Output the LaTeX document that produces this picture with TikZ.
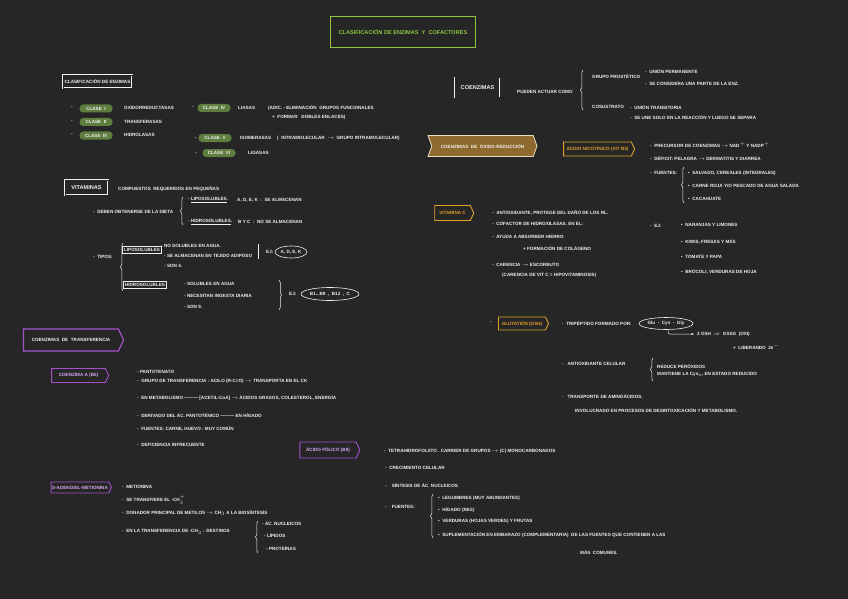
\documentclass[tikz,border=0pt]{standalone}
\usepackage{fontspec}
\setmainfont{Liberation Sans}
\usetikzlibrary{shapes.symbols,shapes.geometric,decorations.pathreplacing,arrows.meta}
\definecolor{board}{HTML}{262626}
\definecolor{chalk}{HTML}{EFEFEF}
\definecolor{titlegreen}{HTML}{8DC63F}
\definecolor{pillgreen}{HTML}{5E7D3E}
\definecolor{cofpurple}{HTML}{A352CC}
\definecolor{cofpurplelt}{HTML}{D6A8F0}
\definecolor{redoxbrown}{HTML}{8E6A2E}
\definecolor{redoxcream}{HTML}{E9DDBE}
\definecolor{redoxamber}{HTML}{E0A02A}
\newcommand\hand{\fontsize{4.6}{5.4}\selectfont\bfseries}
\newcommand\handbig{\fontsize{5.6}{6.4}\selectfont\bfseries}
\begin{document}
\begin{tikzpicture}[x=1pt,y=-1pt,
  txt/.style={anchor=west,inner sep=0pt,text=chalk,font=\hand},
  pill/.style={fill=pillgreen,rounded corners=3.5pt,text=chalk,font=\hand,minimum width=33pt,minimum height=8pt,inner sep=1pt},
  framebox/.style={draw=chalk,line width=0.4pt,double=board,double distance=0.7pt,text=chalk,font=\hand,inner sep=2.5pt},
  thinbox/.style={draw=chalk,line width=0.5pt,text=chalk,font=\hand,inner sep=1.8pt},
  purpletag/.style={shape=signal,signal to=east,signal pointer angle=130,draw=cofpurple,line width=0.9pt,text=cofpurplelt,font=\hand,inner sep=2pt},
  ambertag/.style={shape=signal,signal to=east,signal pointer angle=130,draw=redoxamber,line width=0.9pt,text=redoxamber,font=\hand,inner sep=2pt},
  brc/.style={decorate,decoration={brace,amplitude=2.5pt},draw=chalk,line width=0.5pt},
  oval/.style={ellipse,draw=chalk,line width=0.6pt,text=chalk,font=\hand,inner xsep=0pt,inner ysep=1pt}]
\fill[board] (0,0) rectangle (848,599);
\useasboundingbox (0,0) rectangle (848,599);

\node[draw=titlegreen,line width=0.9pt,minimum width=145pt,minimum height=31pt,text=titlegreen,font=\handbig] (title) at (403,32) {CLASIFICACIÓN DE ENZIMAS \ Y \ COFACTORES};

\node[framebox,minimum width=69pt,minimum height=13pt,inner sep=1pt] (clsf) at (97.5,81.5) {CLASIFICACIÓN DE ENZIMAS};
\node[txt] (d1) at (71,108) {-};
\node[pill] (c1) at (96,108.5) {CLASE \ I};
\node[txt] (t1) at (124,108) {OXIDORREDUCTASAS};
\node[txt] (d2) at (71,122) {-};
\node[pill] (c2) at (96,122) {CLASE \ II};
\node[txt] (t2) at (124,122) {TRANSFERASAS};
\node[txt] (d3) at (71,135) {-};
\node[pill] (c3) at (96,135.5) {CLASE \ III};
\node[txt] (t3) at (124,135) {HIDROLASAS};
\node[txt] (d4) at (192,108) {-};
\node[pill] (c4) at (214,108) {CLASE \ IV};
\node[txt] (t4) at (238,108) {LIASAS};
\node[txt] (t4a) at (268,108) {(ADIC. - ELIMINACIÓN \ GRUPOS FUNCIONALES};
\node[txt] (t4b) at (272,117) {+ \ FORMAR \ \ DOBLES ENLACES)};
\node[txt] (d5) at (195,139) {-};
\node[pill] (c5) at (215,138) {CLASE \ V};
\node[txt] (t5) at (240,138) {ISOMERASAS};
\node[txt] (t5a) at (277,138) {( \ INTRAMOLECULAR \ $\to$ \ GRUPO INTRAMOLECULAR)};
\node[txt] (d6) at (195,154) {-};
\node[pill] (c6) at (219,153) {CLASE \ VI};
\node[txt] (t6) at (248,153) {LIGASAS};

\node[framebox,font=\handbig,minimum width=43pt,minimum height=15pt,inner sep=1pt] (vit) at (86.5,187.5) {VITAMINAS};
\node[txt] (vdef) at (118,189) {COMPUESTOS \ REQUERIDOS EN PEQUEÑAS};
\node[txt] (vdiet) at (93,212) {- \ DEBEN OBTENERSE DE LA DIETA};
\draw[brc] (183,225) -- (183,197);
\node[txt] (vlipo) at (188,200) {- \underline{LIPOSOLUBLES}.};
\node[txt] (vlipot) at (237,200) {A, D, E, K \ : \ SE ALMACENAN};
\node[txt] (vhidro) at (188,222) {- \underline{HIDROSOLUBLES}.};
\node[txt] (vhidrot) at (238,222) {B Y C \ : \ NO SE ALMACENAN};
\node[txt] (vtipos) at (93,257) {- \ TIPOS:};
\draw[brc] (123,291) -- (123,243);
\node[thinbox] (lipo) at (142,249.5) {LIPOSOLUBLES};
\node[txt] (l1) at (161,246) {- NO SOLUBLES EN AGUA.};
\node[txt] (l2) at (164,256) {- SE ALMACENAN EN TEJIDO ADIPOSO};
\node[txt] (l3) at (164,266) {- SON 4.};
\draw[chalk,line width=0.5pt] (258,244) -- (258,259);
\node[txt] (lej) at (266,252) {EJ:};
\node[oval,minimum width=32pt,minimum height=12pt] (lejo) at (291,252) {A, D, E, K};
\node[thinbox] (hidro) at (145,285) {HIDROSOLUBLES};
\node[txt] (h1) at (184,284) {- SOLUBLES EN AGUA};
\node[txt] (h2) at (184,296) {- NECESITAN INGESTA DIARIA};
\node[txt] (h3) at (184,307) {- SON 9.};
\draw[brc] (279,280) -- (279,310);
\node[txt] (hej) at (289,294) {EJ:};
\node[oval,minimum width=58pt,minimum height=13pt] (hejo) at (330,294) {B1...B9 \ , \ B12 \ , \ C};

\node[shape=signal,signal to=east,signal pointer angle=130,draw=cofpurple,line width=1.2pt,text=chalk,font=\hand,minimum width=100pt,minimum height=22pt] (cotr) at (71,340) {COENZIMAS \ DE \ TRANSFERENCIA};
\node[purpletag,minimum width=57pt,minimum height=14pt] (coa) at (78.5,375.5) {COENZIMA A (B5)};
\node[txt] (a1) at (137,372) {- PANTOTENATO};
\node[txt] (a2) at (137,381) {- \ GRUPO DE TRANSFERENCIA : ACILO (R-C=O) $\to$ TRANSPORTA EN EL CK};
\node[txt] (a3) at (137,398) {- \ EN METABOLISMO ——— [ACETIL-CoA] $\to$ ÁCIDOS GRASOS, COLESTEROL, ENERGÍA};
\node[txt] (a4) at (137,415) {- \ DERIVADO DEL ÁC. PANTOTÉNICO ——— EN HÍGADO};
\node[txt] (a5) at (137,429) {- \ FUENTES: CARNE, HUEVO : MUY COMÚN};
\node[txt] (a6) at (137,445) {- \ DEFICIENCIA INFRECUENTE};

\node[purpletag,minimum width=60pt,minimum height=16pt] (folic) at (328,450) {ÁCIDO FÓLICO (B9)};
\node[txt] (f1) at (384,451) {- \ TETRAHIDROFOLATO . CARRIER DE GRUPOS $\to$ (C) MONOCARBONADOS};
\node[txt] (f2) at (385,468) {- \ CRECIMIENTO CELULAR};
\node[txt] (f3) at (385,485) {- \ \ \ SÍNTESIS DE ÁC. NUCLEICOS};
\node[txt] (f4) at (385,507) {- \ \ \ FUENTES:};
\draw[brc] (433,538) -- (433,494);
\node[txt] (f4a) at (438,498) {• \ LEGUMBRES (MUY ABUNDANTES)};
\node[txt] (f4b) at (438,510) {• \ HÍGADO (RES)};
\node[txt] (f4c) at (438,521) {• \ VERDURAS (HOJAS VERDES) Y FRUTAS};
\node[txt] (f4d) at (438,535) {• \ SUPLEMENTACIÓN EN EMBARAZO (COMPLEMENTARIA) \ DE LAS FUENTES QUE CONTIENEN A LAS};
\node[txt] (f4e) at (580,552) {MÁS \ COMUNES.};

\node[purpletag,minimum width=57pt,minimum height=11pt,inner sep=1pt] (sam) at (80,487.5) {S-ADENOSIL-METIONINA};
\node[txt] (s1) at (122,487) {- \ METIONINA};
\node[txt] (s2) at (122,500) {- \ SE TRANSFIERE EL -CH$_3^+$};
\node[txt] (s3) at (122,513) {- \ DONADOR PRINCIPAL DE METILOS $\to$ CH$_3$ A LA BIOSÍNTESIS};
\node[txt] (s4) at (122,532) {- \ EN LA TRANSFERENCIA DE -CH$_3$ : DESTINOS};
\draw[brc] (258,553) -- (258,521);
\node[txt] (s4a) at (262,523) {- ÁC. NUCLEICOS};
\node[txt] (s4b) at (264,535) {- LÍPIDOS};
\node[txt] (s4c) at (266,548) {- PROTEÍNAS};

\node[framebox,font=\handbig,minimum width=45pt,minimum height=20pt,inner sep=1pt] (coenz) at (477.5,87.5) {COENZIMAS};
\node[txt] (cact) at (517,92) {PUEDEN ACTUAR COMO};
\draw[brc] (583,110) -- (583,70);
\node[txt] (gp) at (592,76) {GRUPO PROSTÉTICO};
\node[txt] (gp1) at (645,71) {- \ UNIÓN PERMANENTE};
\node[txt] (gp2) at (645,84) {- \ SE CONSIDERA UNA PARTE DE LA ENZ.};
\node[txt] (cs) at (592,107) {COSUSTRATO};
\node[txt] (cs1) at (630,107) {- \ UNIÓN TRANSITORIA};
\node[txt] (cs2) at (630,117) {- \ SE UNE SOLO EN LA REACCIÓN Y LUEGO SE SEPARA};

\node[shape=signal,signal to=east,signal from=west,signal pointer angle=140,fill=redoxbrown,draw=redoxcream,line width=0.8pt,text=chalk,font=\hand,minimum width=109pt,minimum height=21pt] (redox) at (482.5,146) {COENZIMAS \ DE \ ÓXIDO-REDUCCIÓN};
\node[ambertag,minimum width=71pt,minimum height=14pt] (niac) at (597.5,149) {ÁCIDO NICOTÍNICO (VIT B3)};
\node[txt] (n1) at (650,145) {- \ PRECURSOR DE COENZIMAS $\to$ NAD$^+$ Y NADP$^+$};
\node[txt] (n2) at (650,158) {- \ DÉFICIT: PELAGRA $\to$ DERMATITIS Y DIARREA};
\node[txt] (n3) at (650,173) {- \ FUENTES:};
\draw[brc] (684,203) -- (684,167);
\node[txt] (n3a) at (688,173) {• \ SALVADO, CEREALES (INTEGRALES)};
\node[txt] (n3b) at (688,186) {• \ CARNE ROJA Y/O PESCADO DE AGUA SALADA};
\node[txt] (n3c) at (688,199) {• \ CACAHUATE};

\node[ambertag,minimum width=39pt,minimum height=15pt] (vitc) at (452.5,213) {VITAMINA C};
\node[txt] (v1) at (492,213) {- \ ANTIOXIDANTE, PROTEGE DEL DAÑO DE LOS RL.};
\node[txt] (v2) at (492,224) {- \ COFACTOR DE HIDROXILASAS. EN EL:};
\node[txt] (v3) at (492,237) {- \ AYUDA A ABSORBER HIERRO};
\node[txt] (v3a) at (523,248) {+ FORMACIÓN DE COLÁGENO};
\node[txt] (v4) at (492,265) {- \ CARENCIA $\to$ ESCORBUTO};
\node[txt] (v4a) at (502,275) {(CARENCIA DE VIT C = HIPOVITAMINOSIS)};
\node[txt] (vej) at (650,226) {- \ EJ:};
\node[txt] (vej1) at (681,225) {• \ NARANJAS Y LIMONES};
\node[txt] (vej2) at (681,242) {• \ KIWIS, FRESAS Y MÁS};
\node[txt] (vej3) at (681,257) {• \ TOMATE Y PAPA};
\node[txt] (vej4) at (681,272) {• \ BRÓCOLI, VERDURAS DE HOJA};

\node[txt] (gd) at (490,323) {-};
\node[ambertag,minimum width=50pt,minimum height=13pt] (gsh) at (522,323.5) {GLUTATIÓN (GSH)};
\node[txt] (g1) at (562,323) {- \ TRIPÉPTIDO FORMADO POR:};
\node[oval,minimum width=54pt,minimum height=12pt] (tri) at (666,323.5) {Glu \ - \ Cys \ - \ Gly};
\node[txt] (gox) at (697,334) {2 GSH \ $\Rightarrow$ \ GSSG \ (OXI)};
\node[txt] (gox2) at (733,347) {+ \ LIBERANDO \ 2e$^-$};
\draw[-{Stealth[length=3pt]},chalk,line width=0.5pt,rounded corners=2pt] ([xshift=2pt]tri.south) |- ([xshift=-3pt]gox.west);
\node[txt] (g2) at (562,364) {- \ \ ANTIOXIDANTE CELULAR};
\draw[brc] (653,381) -- (653,358);
\node[txt] (g2a) at (657,366) {REDUCE PERÓXIDOS};
\node[txt] (g2b) at (657,374) {MANTIENE LA Cys$_{\mathrm{SH}}$ EN ESTADO REDUCIDO};
\node[txt] (g3) at (562,396) {- \ \ TRANSPORTE DE AMINOÁCIDOS.};
\node[txt] (g3a) at (575,410) {INVOLUCRADO EN PROCESOS DE DESINTOXICACIÓN Y METABOLISMO.};
\end{tikzpicture}
\end{document}
